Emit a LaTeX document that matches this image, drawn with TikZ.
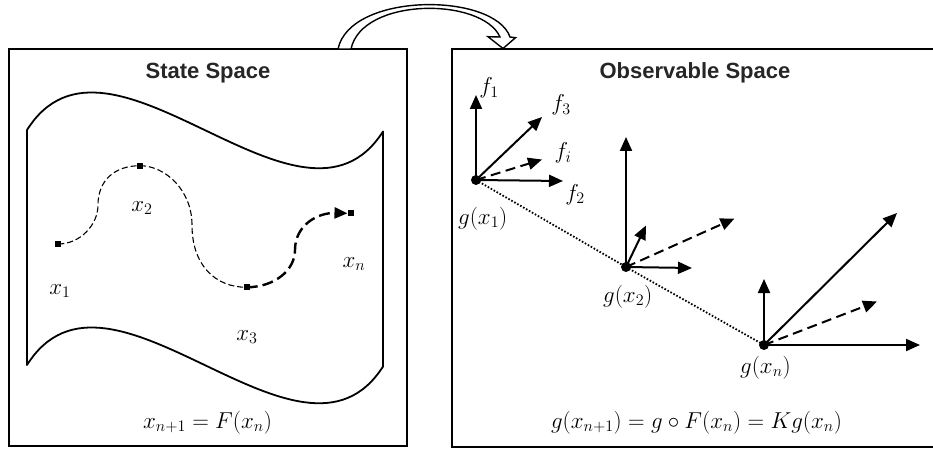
\RequirePackage{fix-cm}
\documentclass[tikz,border=0pt]{standalone}
\usepackage{fontspec}
\setsansfont{Liberation Sans}
\usetikzlibrary{arrows.meta}
\begin{document}
\begin{tikzpicture}[x=1pt,y=-1pt,
  frame/.style={line width=1.8pt},
  sheet/.style={line width=1.8pt},
  title/.style={font=\sffamily\bfseries\fontsize{22}{26}\selectfont, text=black!85, anchor=base, inner sep=0},
  lab/.style={font=\fontsize{23}{27}\selectfont, inner sep=0, anchor=base},
  pt/.style={rectangle, fill=black, minimum size=6pt, inner sep=0},
  dot/.style={circle, fill=black, minimum size=10pt, inner sep=0},
  vec/.style={line width=2pt, -{Triangle[length=14pt,width=12pt]}},
  dvec/.style={vec, dash pattern=on 10pt off 5.5pt},
  thindash/.style={line width=1.1pt, dash pattern=on 6pt off 3pt},
  thickdash/.style={line width=2.4pt, dash pattern=on 11pt off 5pt, -{Triangle[length=13pt,width=11pt]}},
  dotline/.style={line width=1.8pt, dash pattern=on 1.6pt off 1.8pt},
]
\useasboundingbox (0,0) rectangle (933,449);
% frames
\draw[frame] (9.3,49) rectangle (406.7,446);
\draw[frame] (452,49) rectangle (945,446.7);
% hollow curved arrow
\draw[line width=1.4pt, fill=white, line join=miter]
  (338,49) .. controls (350,-8) and (494,-8) .. (510,37)
  -- (515.5,37.7) -- (503,48.5) -- (488,36.7) -- (500,37)
  .. controls (482,-3) and (362,-3) .. (351,49) -- cycle;
% titles
\node[title] (t1) at (208,79) {State Space};
\node[title] (t2) at (695,79) {Observable Space};
% sheet
\draw[sheet, line join=round]
  (27,130) .. controls (109,0) and (301,260) .. (383,131.5)
  -- (383,366.5) .. controls (301,495) and (109,235) .. (27,365) -- cycle;
% trajectory points
\node[pt] (p1) at (58.3,244) {};
\node[pt] (p2) at (140,165.7) {};
\node[pt] (p3) at (246.7,287.3) {};
\node[pt] (pn) at (350.7,213.3) {};
\draw[thindash] (p1.center) .. controls (80,244) and (98,225) .. (98,205)
  .. controls (98,180) and (115,165.7) .. (p2.center);
\draw[thindash] (p2.center) .. controls (165,165.7) and (192,190) .. (192,225)
  .. controls (192,265) and (215,287.3) .. (p3.center);
\draw[thickdash] (p3.center) .. controls (275,287) and (295,270) .. (295,250)
  .. controls (295,225) and (318,212.5) .. (pn.west);
\node[lab] (l1) at (60,294) {$x_1$};
\node[lab] (l2) at (142,211) {$x_2$};
\node[lab] (l3) at (247,340) {$x_3$};
\node[lab] (ln) at (354,267) {$x_n$};
\node[lab] (e1) at (207.5,428) {$x_{n+1} = F(x_n)$};
% observable space
\node[dot] (g1) at (476,180) {};
\node[dot] (g2) at (626,267) {};
\node[dot] (gn) at (764,345) {};
\draw[dotline] (g1.center) -- (g2.center) -- (gn.center);
\coordinate (a1) at (476,95);
\coordinate (a3) at (542,117);
\coordinate (ai) at (542,159.5);
\coordinate (a2) at (563,181);
\draw[vec] (g1.center) -- (a1);
\draw[vec] (g1.center) -- (a3);
\draw[dvec] (g1.center) -- (ai);
\draw[vec] (g1.center) -- (a2);
\coordinate (b1) at (626,137);
\coordinate (b3) at (646,225.5);
\coordinate (bi) at (734.5,218.5);
\coordinate (b2) at (692,268);
\draw[vec] (g2.center) -- (b1);
\draw[vec] (g2.center) -- (b3);
\draw[dvec] (g2.center) -- (bi);
\draw[vec] (g2.center) -- (b2);
\coordinate (c1) at (764,279);
\coordinate (c3) at (897,213);
\coordinate (ci) at (877,301.5);
\coordinate (c2) at (920,345);
\draw[vec] (gn.center) -- (c1);
\draw[vec] (gn.center) -- (c3);
\draw[dvec] (gn.center) -- (ci);
\draw[vec] (gn.center) -- (c2);
\node[lab] (f1) at (489,94) {$f_1$};
\node[lab] (f3) at (561,111) {$f_3$};
\node[lab] (fi) at (563,159) {$f_i$};
\node[lab] (f2) at (575,200) {$f_2$};
\node[lab, anchor=base west] (lg1) at (458,224) {$g(x_1)$};
\node[lab, anchor=base west] (lg2) at (603,302) {$g(x_2)$};
\node[lab, anchor=base west] (lgn) at (740,373) {$g(x_n)$};
\node[lab] (e2) at (696.5,428) {$g(x_{n+1}) = g\circ F(x_n) = Kg(x_n)$};
\end{tikzpicture}
\end{document}
